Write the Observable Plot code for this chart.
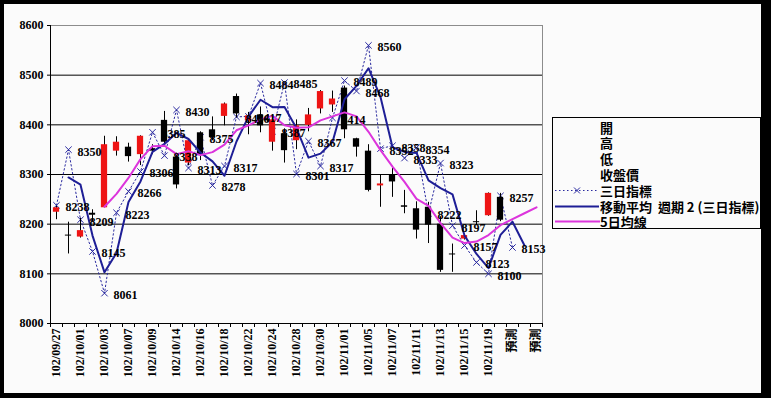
<!DOCTYPE html>
<html><head><meta charset="utf-8">
<script src="https://cdn.jsdelivr.net/npm/d3@7"></script>
<script src="https://cdn.jsdelivr.net/npm/@observablehq/plot@0.6"></script>
<style>
html,body{margin:0;padding:0;background:#000;}
#wrap{position:relative;width:771px;height:398px;background:#000;overflow:hidden;}
#inner{position:absolute;left:4px;top:4px;width:757px;height:389px;background:#fbfbfb;}
#chart{position:absolute;left:0;top:0;}
#legend{position:absolute;left:552px;top:117px;width:207px;height:110px;border:1px solid #000;background:#fbfbfb;font-family:'Noto Sans CJK TC','Noto Sans CJK SC',sans-serif;font-size:13px;font-weight:bold;color:#000;}
.row{position:absolute;left:0;height:15px;display:flex;align-items:center;overflow:visible;}
.row svg{width:47px;height:15px;flex:none;}
.row span{white-space:pre;line-height:15px;}
</style></head>
<body><div id="wrap"><div id="inner"></div><div id="chart"></div><div id="legend"></div></div>
<script>
// categories (trading days + forecast slots)
const dates = ["102/09/27","102/09/30","102/10/01","102/10/02","102/10/03","102/10/04","102/10/07","102/10/08","102/10/09","102/10/11",
"102/10/14","102/10/15","102/10/16","102/10/17","102/10/18","102/10/21","102/10/22","102/10/23","102/10/24","102/10/25",
"102/10/28","102/10/29","102/10/30","102/10/31","102/11/01","102/11/04","102/11/05","102/11/06","102/11/07","102/11/08",
"102/11/11","102/11/12","102/11/13","102/11/14","102/11/15","102/11/18","102/11/19","102/11/20","預測","預測","預測"];
// candles: 開 / 高 / 低 / 收盤價
const openP  = [8224,8178,8174,8222,8233,8347,8355,8340,8352,8409,8335,8323,8384,8390,8417,8457,8408,8420,8365,8382,8368,8399,8432,8440,8474,8372,8347,8277,8300,8237,8231,8234,8200,8140,8170,8205,8217,8254];
const highP  = [8236,8204,8212,8229,8377,8376,8363,8378,8360,8427,8343,8371,8386,8416,8444,8462,8425,8436,8420,8392,8410,8433,8469,8468,8478,8373,8360,8298,8312,8268,8245,8244,8215,8160,8180,8227,8263,8262];
const lowP   = [8209,8140,8172,8204,8233,8337,8325,8318,8340,8358,8271,8318,8328,8368,8398,8414,8380,8384,8347,8323,8350,8386,8422,8425,8372,8335,8265,8234,8254,8221,8170,8161,8103,8103,8168,8197,8216,8205];
const closeP = [8233,8176,8187,8218,8360,8365,8336,8377,8347,8365,8279,8368,8338,8374,8442,8422,8418,8398,8410,8348,8398,8420,8467,8452,8390,8355,8268,8281,8285,8234,8188,8198,8107,8138,8177,8203,8262,8208];
// 三日指標
const sanri = [8238,8350,8209,8145,8061,8223,8266,8306,8385,8338,8430,8313,8375,8278,8317,8416,8417,8484,8387,8485,
8301,8367,8317,8414,8489,8468,8560,8352,8358,8333,8354,8222,8323,8197,8157,8123,8100,8257,8153];
// 移動平均 週期 2 (三日指標)
const ma2 = [null,8294,8279.5,8177,8103,8142,8244.5,8286,8345.5,8361.5,8384,8371.5,8344,8326.5,8297.5,8366.5,8416.5,8450.5,8435.5,8436,
8393,8334,8342,8365.5,8451.5,8478.5,8514,8456,8355,8345.5,8343.5,8288,8272.5,8260,8177,8140,8111.5,8178.5,8205,8157];
// 5日均線
const ma5 = [null,null,null,null,8235,8261,8293,8331,8357,8358,8341,8347,8339,8345,8360,8389,8399,8411,8418,8399,
8394,8395,8409,8417,8425,8417,8386,8349,8316,8285,8251,8237,8202,8173,8162,8165,8178,8198,8210,8222,8234];
const yTicks = [8000,8100,8200,8300,8400,8500,8600];
const legendNames = ["開","高","低","收盤價","三日指標","移動平均  週期 2 (三日指標)","5日均線"];

const navy = "#2a2aa0", blue = "#1e1e96", magenta = "#dc34dc", red = "#ee1414";
const serif = "'Liberation Serif','Noto Sans CJK TC',serif";

const candles = openP.map((o,i)=>({i, o, h:highP[i], l:lowP[i], c:closeP[i]}));
const sanriData = sanri.map((v,i)=>({i, v}));
const ma2Data = ma2.map((v,i)=>({i, v})).filter(d=>d.v!=null);
const ma5Data = ma5.map((v,i)=>({i, v})).filter(d=>d.v!=null);
const n = dates.length;

const chart = Plot.plot({
  width: 771, height: 398,
  marginLeft: 50, marginRight: 229, marginTop: 25, marginBottom: 75,
  style: {background: "transparent", fontFamily: serif, fontSize: "12px", fontWeight: "bold", color: "#000", overflow: "visible"},
  x: {type: "linear", domain: [-0.5, n - 0.5], label: null},
  y: {domain: [8000, 8600], label: null},
  color: {type: "identity"},
  marks: [
    Plot.ruleY(yTicks.filter(v => v < 8600), {stroke: "#000", strokeWidth: 1}),
    Plot.ruleY([8600], {stroke: "#8c8c8c"}),
    Plot.ruleX([n - 0.5], {stroke: "#8c8c8c"}),
    Plot.ruleX([-0.5], {stroke: "#000"}),
    Plot.axisY({ticks: yTicks, tickSize: 3, tickPadding: 4, tickFormat: d => String(d), fontSize: 12, fontWeight: "bold", label: null}),
    Plot.axisX({ticks: d3.range(-0.5, n, 1), tickSize: 4, tickFormat: () => "", label: null}),
    Plot.axisX({ticks: d3.range(0, n, 2), tickSize: 0, tickPadding: 5, tickRotate: -90, tickFormat: i => dates[i], fontSize: 12, fontWeight: "bold", label: null}),
    Plot.line(sanriData, {x: "i", y: "v", stroke: navy, strokeWidth: 1, strokeDasharray: "1.5,2.5"}),
    Plot.dot(sanriData, {x: "i", y: "v", symbol: "times", r: 3, stroke: navy, strokeWidth: 1}),
    Plot.ruleX(candles, {x: "i", y1: "l", y2: "h", stroke: "#000", strokeWidth: 1}),
    Plot.rect(candles, {x1: d => d.i - 0.26, x2: d => d.i + 0.26, y1: "o", y2: "c", fill: d => d.c >= d.o ? red : "#000"}),
    Plot.line(ma2Data, {x: "i", y: "v", stroke: blue, strokeWidth: 2}),
    Plot.line(ma5Data, {x: "i", y: "v", stroke: magenta, strokeWidth: 2}),
    Plot.text(sanriData, {x: "i", y: "v", text: d => String(d.v), dx: 9, dy: 2, textAnchor: "start", fontSize: 12, fontWeight: "bold", fill: "#000"})
  ]
});
document.getElementById("chart").appendChild(chart);

// legend
const lg = document.getElementById("legend");
const swatches = [null, null, null, null,
  `<svg viewBox="0 0 47 15"><line x1="2" x2="45" y1="7.5" y2="7.5" stroke="${navy}" stroke-width="1" stroke-dasharray="1.5,2.5"/><path d="M21,4.5L27,10.5M27,4.5L21,10.5" stroke="${navy}" stroke-width="1"/></svg>`,
  `<svg viewBox="0 0 47 15"><line x1="2" x2="46" y1="7.5" y2="7.5" stroke="${blue}" stroke-width="2"/></svg>`,
  `<svg viewBox="0 0 47 15"><line x1="2" x2="47" y1="7.5" y2="7.5" stroke="${magenta}" stroke-width="2"/></svg>`];
legendNames.forEach((name, k) => {
  const row = document.createElement("div");
  row.className = "row";
  row.style.top = (1.5 + k * 15.8) + "px";
  row.innerHTML = (swatches[k] || `<svg viewBox="0 0 47 15"></svg>`) + `<span>${name}</span>`;
  lg.appendChild(row);
});
</script></body></html>
